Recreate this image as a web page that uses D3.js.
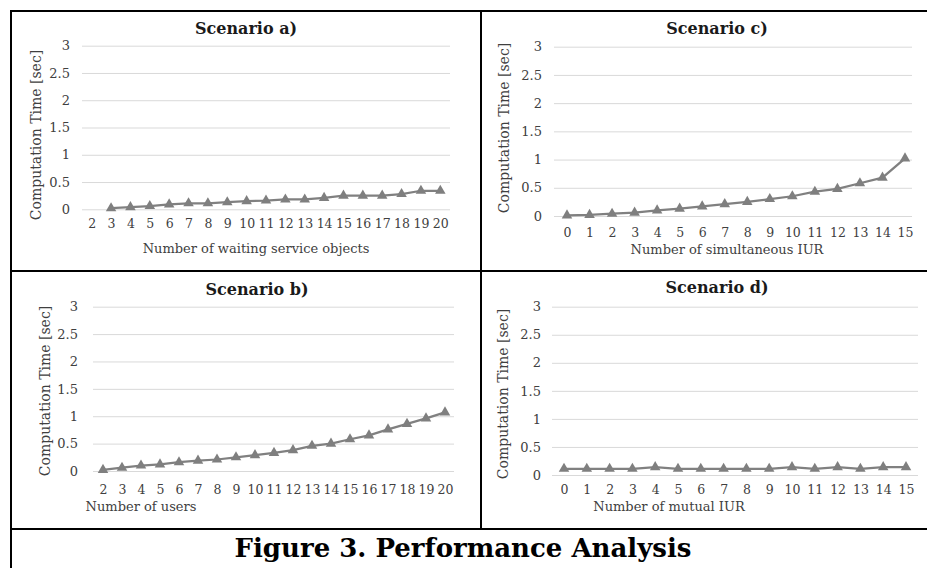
<!DOCTYPE html>
<html>
<head>
<meta charset="utf-8">
<script src="https://d3js.org/d3.v7.min.js"></script>
<style>
  body { margin: 0; background: #fff; }
  svg text { font-family: "DejaVu Serif", serif; }
</style>
</head>
<body>
<div id="chart"></div>
<script>
// values
const yTicks = [0, 0.5, 1, 1.5, 2, 2.5, 3];

const objectCats = ["2","3","4","5","6","7","8","9","10","11","12","13","14","15","16","17","18","19","20"];
const waitingTimes = [null, 0.02, 0.04, 0.06, 0.09, 0.11, 0.11, 0.13, 0.15, 0.16, 0.18, 0.18, 0.21, 0.25, 0.25, 0.25, 0.28, 0.34, 0.34];

const userCats = ["2","3","4","5","6","7","8","9","10","11","12","13","14","15","16","17","18","19","20"];
const userTimes = [0.02, 0.06, 0.10, 0.12, 0.16, 0.19, 0.21, 0.25, 0.29, 0.33, 0.38, 0.46, 0.50, 0.58, 0.65, 0.76, 0.86, 0.96, 1.07];

const simultaneousCats = ["0","1","2","3","4","5","6","7","8","9","10","11","12","13","14","15"];
const simultaneousTimes = [0.01, 0.02, 0.04, 0.06, 0.10, 0.13, 0.17, 0.21, 0.25, 0.30, 0.35, 0.43, 0.48, 0.58, 0.68, 1.02];

const mutualCats = ["0","1","2","3","4","5","6","7","8","9","10","11","12","13","14","15"];
const mutualTimes = [0.11, 0.11, 0.11, 0.11, 0.14, 0.11, 0.11, 0.11, 0.11, 0.11, 0.14, 0.11, 0.14, 0.11, 0.14, 0.14];

const svg = d3.select("#chart").append("svg")
    .attr("width", 927)
    .attr("height", 568);

function drawPanel(p) {
    const g = svg.append("g");

    const x = d3.scalePoint()
        .domain(p.cats)
        .range([p.px0, p.px1]);

    const y = d3.scaleLinear()
        .domain([0, 3])
        .range([p.y0, p.y3]);

    // gridlines + y labels
    const yAxis = g.append("g")
        .attr("transform", `translate(${p.gx0}, 0)`)
        .call(d3.axisLeft(y)
            .tickValues(yTicks)
            .tickSize(-(p.gx1 - p.gx0))
            .tickPadding(p.yPad)
            .tickFormat(d => String(d)));
    yAxis.select(".domain").remove();
    yAxis.selectAll("line").attr("stroke", "#d9d9d9").attr("stroke-width", 1);
    yAxis.selectAll("text")
        .attr("fill", "#404040")
        .style("font-size", "13px")
        .style("font-family", "DejaVu Serif");

    const xAxis = g.append("g")
        .attr("transform", `translate(0, ${p.y0})`)
        .call(d3.axisBottom(x).tickSize(0).tickPadding(p.xPad));
    xAxis.select(".domain").remove();
    xAxis.selectAll("text")
        .attr("fill", "#404040")
        .style("font-size", "12.5px")
        .style("font-family", "DejaVu Serif");

    const pts = p.cats.map((c, i) => ({ c: c, v: p.values[i] })).filter(d => d.v !== null);

    const line = d3.line()
        .x(d => x(d.c))
        .y(d => y(d.v));

    g.append("path")
        .datum(pts)
        .attr("fill", "none")
        .attr("stroke", "#808080")
        .attr("stroke-width", 2.25)
        .attr("d", line);

    g.selectAll(".tri")
        .data(pts)
        .enter().append("path")
        .attr("class", "tri")
        .attr("d", d3.symbol(d3.symbolTriangle).size(48))
        .attr("transform", d => `translate(${x(d.c)}, ${y(d.v)})`)
        .attr("fill", "#7f7f7f");

    g.append("text")
        .attr("x", p.titleX)
        .attr("y", p.titleY)
        .attr("text-anchor", "middle")
        .attr("fill", "#1a1a1a")
        .style("font-size", "16px")
        .style("font-weight", "bold")
        .text(p.title);

    g.append("text")
        .attr("x", p.xLabelX)
        .attr("y", p.xLabelY)
        .attr("text-anchor", "middle")
        .attr("fill", "#404040")
        .style("font-size", "13px")
        .text(p.xLabel);

    g.append("text")
        .attr("transform", `translate(${p.yLabelX}, ${p.yLabelY}) rotate(-90)`)
        .attr("dy", "0.35em")
        .attr("text-anchor", "middle")
        .attr("fill", "#404040")
        .style("font-size", "14px")
        .text("Computation Time [sec]");
}

drawPanel({
    cats: objectCats, values: waitingTimes, title: "Scenario a)",
    xLabel: "Number of waiting service objects",
    px0: 91.7, px1: 440.3, gx0: 82, gx1: 450, y0: 209.3, y3: 45.7,
    yPad: 12, xPad: 10, titleX: 246, titleY: 34,
    xLabelX: 256, xLabelY: 253, yLabelX: 36, yLabelY: 135
});

drawPanel({
    cats: simultaneousCats, values: simultaneousTimes, title: "Scenario c)",
    xLabel: "Number of simultaneous IUR",
    px0: 567, px1: 905, gx0: 554, gx1: 912, y0: 216, y3: 46.7,
    yPad: 12, xPad: 12, titleX: 717, titleY: 34,
    xLabelX: 727, xLabelY: 254, yLabelX: 504, yLabelY: 128
});

drawPanel({
    cats: userCats, values: userTimes, title: "Scenario b)",
    xLabel: "Number of users",
    px0: 103, px1: 445, gx0: 93, gx1: 454, y0: 471, y3: 306.7,
    yPad: 15, xPad: 14, titleX: 257, titleY: 295,
    xLabelX: 141, xLabelY: 511, yLabelX: 45, yLabelY: 391
});

drawPanel({
    cats: mutualCats, values: mutualTimes, title: "Scenario d)",
    xLabel: "Number of mutual IUR",
    px0: 564, px1: 906, gx0: 552, gx1: 918, y0: 475, y3: 306.7,
    yPad: 11, xPad: 10, titleX: 717, titleY: 293,
    xLabelX: 669, xLabelY: 511, yLabelX: 503, yLabelY: 394
});

// table borders
const borders = [
    [10, 11, 927, 11],
    [11, 10, 11, 568],
    [481, 11, 481, 530],
    [10, 271, 927, 271],
    [10, 529, 927, 529]
];
svg.selectAll(".border")
    .data(borders)
    .enter().append("line")
    .attr("class", "border")
    .attr("x1", d => d[0]).attr("y1", d => d[1])
    .attr("x2", d => d[2]).attr("y2", d => d[3])
    .attr("stroke", "#000")
    .attr("stroke-width", 2);

svg.append("text")
    .attr("x", 463)
    .attr("y", 557)
    .attr("text-anchor", "middle")
    .attr("fill", "#000")
    .style("font-size", "26px")
    .style("font-weight", "bold")
    .text("Figure 3. Performance Analysis");
</script>
</body>
</html>
